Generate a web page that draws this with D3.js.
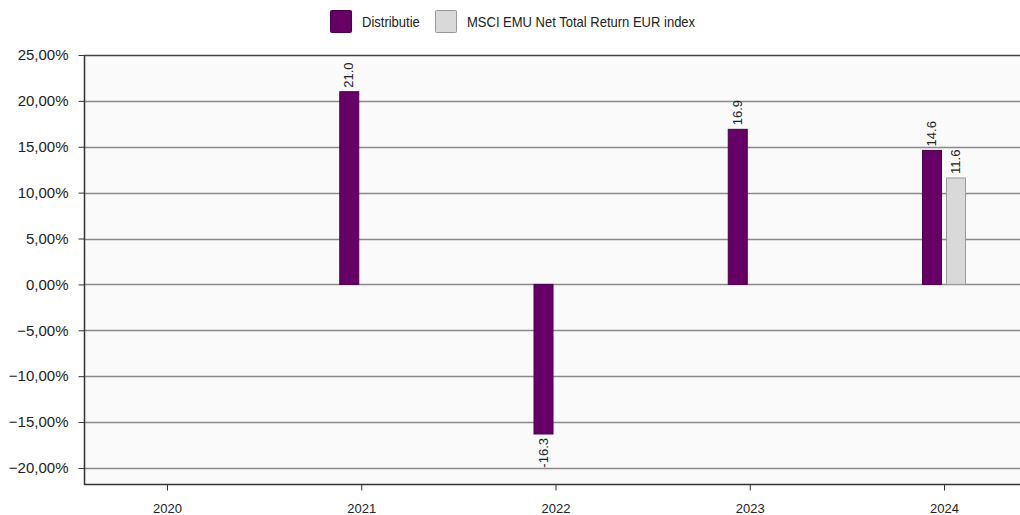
<!DOCTYPE html>
<html>
<head>
<meta charset="utf-8">
<script src="https://cdn.jsdelivr.net/npm/d3@7"></script>
<style>
  body { margin: 0; background: #fff; }
  .narrow { font-family: "Liberation Sans Narrow", "Arial Narrow", "Liberation Sans", sans-serif; }
  .ytick text { font-family: "Liberation Sans", Arial, sans-serif; font-size: 15px; fill: #222; }
</style>
</head>
<body>
<div id="chart"></div>
<script>
// data
const years = ["2020", "2021", "2022", "2023", "2024"];
const seriesNames = ["Distributie", "MSCI EMU Net Total Return EUR index"];
const fund = [0, 21.0, -16.3, 16.9, 14.6];
const index = [0, 0, 0, 0, 11.6];
const yTicks = [25, 20, 15, 10, 5, 0, -5, -10, -15, -20];

document.addEventListener('DOMContentLoaded', function () {
  const w = 1020, h = 515;
  const left = 84, top = 55, bottom = 484, right = 1030;

  const svg = d3.select("#chart").append("svg")
    .attr("width", w).attr("height", h);

  const x = d3.scalePoint().domain(years).range([167, 944]);
  const y = d3.scaleLinear().domain([-21.75, 25]).range([bottom, top]);

  // plot background
  svg.append("rect")
    .attr("x", left).attr("y", top)
    .attr("width", right - left).attr("height", bottom - top)
    .attr("fill", "#fafafa");

  // grid lines
  svg.append("g").selectAll("line")
    .data(yTicks.filter(d => d !== 25))
    .enter().append("line")
    .attr("x1", left).attr("x2", right)
    .attr("y1", d => Math.round(y(d)) + 0.5).attr("y2", d => Math.round(y(d)) + 0.5)
    .attr("stroke", "#8a8a8a").attr("stroke-width", 1.3);

  // y axis
  const yAxis = d3.axisLeft(y).tickValues(yTicks).tickSize(6)
    .tickFormat(d => d3.format(".2f")(d).replace(".", ",") + "%");
  const gy = svg.append("g").attr("class", "ytick")
    .attr("transform", "translate(" + (left + 0.5) + ",0)")
    .call(yAxis);
  gy.select(".domain").remove();
  gy.selectAll(".tick line").attr("stroke", "#333");
  gy.selectAll(".tick text").attr("x", -16);

  // frame lines (left, top, bottom)
  svg.append("line").attr("x1", left + 0.5).attr("x2", left + 0.5)
    .attr("y1", top).attr("y2", bottom + 1)
    .attr("stroke", "#333").attr("stroke-width", 1.5);
  svg.append("line").attr("x1", left).attr("x2", right)
    .attr("y1", top + 0.5).attr("y2", top + 0.5)
    .attr("stroke", "#444").attr("stroke-width", 1.5);
  svg.append("line").attr("x1", left).attr("x2", right)
    .attr("y1", bottom + 0.5).attr("y2", bottom + 0.5)
    .attr("stroke", "#333").attr("stroke-width", 1.5);

  // x axis
  const xAxis = d3.axisBottom(x).tickSize(6).tickSizeOuter(0);
  const gx = svg.append("g").attr("class", "narrow")
    .attr("transform", "translate(0," + (bottom + 0.5) + ")")
    .call(xAxis);
  gx.select(".domain").remove();
  gx.selectAll(".tick line").attr("stroke", "#333");
  gx.selectAll(".tick text").attr("y", 19).attr("font-size", 13)
    .attr("fill", "#222");

  // bars
  const barW = 19, gap = 5;
  const series = [
    { name: seriesNames[0], values: fund, fill: "#660066", stroke: "#4a004a", off: -gap / 2 - barW },
    { name: seriesNames[1], values: index, fill: "#d9d9d9", stroke: "#999", off: gap / 2 }
  ];

  series.forEach(s => {
    const g = svg.append("g");
    g.selectAll("rect")
      .data(years.map((yr, i) => ({ yr: yr, v: s.values[i] })))
      .enter().append("rect")
      .attr("x", d => x(d.yr) + s.off)
      .attr("y", d => y(Math.max(0, d.v)))
      .attr("width", barW)
      .attr("height", d => Math.abs(y(d.v) - y(0)))
      .attr("fill", s.fill)
      .attr("stroke", d => d.v === 0 ? "#6e6e6e" : s.stroke)
      .attr("stroke-width", d => d.v === 0 ? 1.6 : 1);

    g.selectAll("text")
      .data(years.map((yr, i) => ({ yr: yr, v: s.values[i] })).filter(d => d.v !== 0))
      .enter().append("text")
      .attr("class", "narrow")
      .attr("font-size", 13)
      .attr("fill", "#222")
      .attr("transform", d => {
        const cx = x(d.yr) + s.off + barW / 2 + 4;
        const cy = d.v > 0 ? y(d.v) - 4 : y(d.v) + 4;
        return "translate(" + cx + "," + cy + ") rotate(-90)";
      })
      .attr("text-anchor", d => d.v > 0 ? "start" : "end")
      .text(d => d.v.toFixed(1));
  });

  // legend
  const legend = svg.append("g").attr("class", "narrow");
  const items = [
    { name: seriesNames[0], x: 330, fill: "#660066", stroke: "#4a004a" },
    { name: seriesNames[1], x: 435, fill: "#d9d9d9", stroke: "#999" }
  ];
  items.forEach(it => {
    legend.append("rect")
      .attr("x", it.x + 0.5).attr("y", 10.5)
      .attr("width", 21).attr("height", 22).attr("rx", 1)
      .attr("fill", it.fill).attr("stroke", it.stroke);
    legend.append("text")
      .attr("transform", "translate(" + (it.x + 32) + ",27) scale(0.93,1)")
      .attr("font-size", 14).attr("fill", "#222")
      .text(it.name);
  });
});
</script>
</body>
</html>
